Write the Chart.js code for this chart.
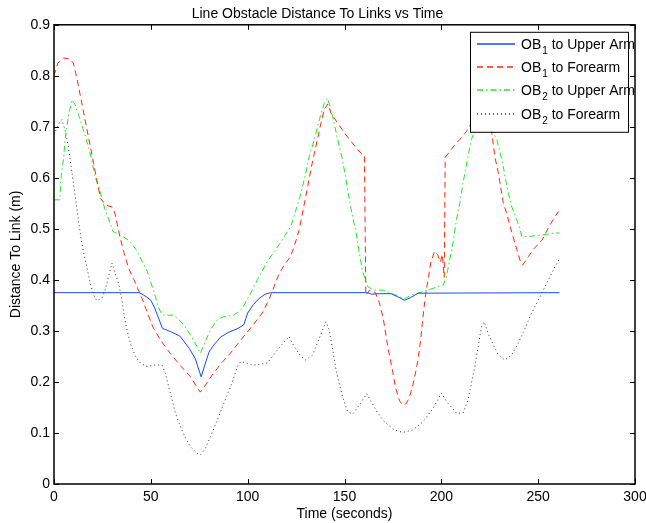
<!DOCTYPE html>
<html>
<head>
<meta charset="utf-8">
<script src="https://cdn.jsdelivr.net/npm/chart.js@4/dist/chart.umd.min.js"></script>
<style>
  html, body { margin: 0; padding: 0; background: #fff; }
</style>
</head>
<body>
<canvas id="lineCanvas" width="646" height="523"></canvas>
<script>
// OB1 to Upper Arm (solid blue)
const timeOb1Upper = [0, 44, 46, 48, 50, 52, 54, 56, 60, 65, 70, 73, 76, 78, 80, 82, 86, 90, 95, 98,
  100, 103, 106, 109, 112, 162, 164, 168, 174, 178, 181, 184, 188, 261];
const ob1Upper = [0.375, 0.375, 0.371, 0.366, 0.36, 0.345, 0.325, 0.305, 0.299, 0.29, 0.265, 0.245, 0.21, 0.235, 0.258, 0.27, 0.288, 0.297, 0.305, 0.312,
  0.335, 0.352, 0.364, 0.372, 0.375, 0.375, 0.372, 0.373, 0.373, 0.366, 0.36, 0.365, 0.374, 0.375];

// OB1 to Forearm (red dashed)
const timeOb1Fore = [0, 2, 5, 8, 10, 12, 24, 26, 28, 30,
  31.5, 34, 36, 38.5, 42, 45.4, 48, 51, 55, 60,
  65, 70.5, 75.5, 77.5, 81, 86, 91, 96, 102, 107.5,
  111, 113.6, 116, 119, 122, 124, 126.6, 128.3, 130, 132.6,
  134.4, 136, 137.8, 139.5, 141.3, 143, 146.5, 150.8, 156.8, 160.3,
  161, 163, 166, 168, 170, 172.4, 175, 176.3, 178.4, 180,
  182, 183.6, 185.3, 187, 188.2, 189.3, 190.2, 191, 192.2, 193.4,
  194.5, 196.5, 198, 199.5, 200.5, 201.5, 202, 207, 209.5, 213,
  215, 219, 223, 226, 227.6, 229.4, 230.6, 232, 233.7, 235,
  237, 239, 240.6, 242, 245, 248, 252, 255, 258.7, 260.5];
const ob1Fore = [0.8, 0.825, 0.835, 0.833, 0.825, 0.792, 0.56, 0.55, 0.545, 0.543,
  0.53, 0.485, 0.455, 0.423, 0.394, 0.364, 0.338, 0.308, 0.282, 0.256,
  0.233, 0.21, 0.18, 0.19, 0.21, 0.235, 0.256, 0.28, 0.308, 0.335,
  0.361, 0.387, 0.41, 0.43, 0.445, 0.465, 0.498, 0.531, 0.563, 0.616,
  0.648, 0.675, 0.707, 0.733, 0.745, 0.727, 0.707, 0.684, 0.655, 0.643,
  0.37, 0.38, 0.375, 0.355, 0.325, 0.268, 0.218, 0.19, 0.163, 0.155,
  0.158, 0.171, 0.194, 0.224, 0.25, 0.282, 0.315, 0.344, 0.38, 0.406,
  0.433, 0.456, 0.45, 0.435, 0.45, 0.405, 0.64, 0.665, 0.675, 0.691,
  0.704, 0.72, 0.73, 0.69, 0.642, 0.61, 0.583, 0.551, 0.531, 0.512,
  0.485, 0.459, 0.439, 0.429, 0.446, 0.462, 0.478, 0.5, 0.524, 0.534];

// OB2 to Upper Arm (green dash-dot)
const timeOb2Upper = [0, 3, 3.5, 5, 5.7, 7.4, 9.2, 11, 12.6, 15.2,
  17.8, 19.5, 21.2, 23.8, 26.4, 29, 30.4, 33, 36, 39.4,
  42.8, 45, 48, 51.5, 54, 55.8, 61.8, 67, 70.5, 73.9,
  75.6, 77.4, 80.8, 84.3, 87.7, 92.9, 97.2, 101.6, 105, 110.2,
  116.2, 122.3, 124.9, 127.5, 130, 131.8, 134.4, 137, 139.5, 141.3,
  143.9, 146.5, 149, 150.8, 152.5, 154.2, 156, 157.7, 159.4, 162,
  165, 170, 174, 178.4, 181, 184.5, 188, 193, 198.3, 201,
  202.6, 204.3, 206, 207.8, 209.5, 211.2, 213.8, 215.5, 219, 222,
  226, 228.5, 230.2, 232, 233.2, 234.6, 236.3, 238.9, 240.6, 241.5,
  244.9, 251.8, 258.7, 261];
const ob2Upper = [0.557, 0.557, 0.596, 0.64, 0.675, 0.72, 0.753, 0.743, 0.724, 0.694,
  0.661, 0.635, 0.603, 0.573, 0.537, 0.511, 0.495, 0.49, 0.484, 0.475,
  0.457, 0.44, 0.418, 0.378, 0.346, 0.331, 0.331, 0.312, 0.292, 0.269,
  0.256, 0.273, 0.302, 0.322, 0.328, 0.331, 0.344, 0.374, 0.4, 0.436,
  0.469, 0.505, 0.537, 0.57, 0.609, 0.642, 0.675, 0.714, 0.746, 0.756,
  0.72, 0.675, 0.635, 0.596, 0.557, 0.524, 0.492, 0.452, 0.416, 0.387,
  0.38, 0.38, 0.374, 0.367, 0.363, 0.37, 0.374, 0.38, 0.387, 0.39,
  0.406, 0.439, 0.472, 0.518, 0.55, 0.59, 0.642, 0.675, 0.71, 0.72,
  0.694, 0.678, 0.652, 0.622, 0.596, 0.57, 0.544, 0.518, 0.501, 0.485,
  0.485, 0.488, 0.492, 0.492];

// OB2 to Forearm (black dotted)
const timeOb2Fore = [0, 3, 4, 5.7, 7.4, 8.6, 10, 11.2, 12.6, 13.8,
  15.2, 16.9, 18.7, 20.4, 22.1, 24.7, 26.4, 28.1, 29.9, 31.6,
  33.3, 35.1, 36.3, 37.7, 39.4, 42, 44.6, 48, 51.5, 55.8,
  57.5, 59.2, 61, 62.7, 65.3, 67.9, 70.5, 73.9, 75.6, 78.2,
  80.8, 84.3, 87.7, 91.2, 94.7, 96.4, 103.3, 110.2, 115.4, 119.7,
  121.4, 124, 127.5, 130, 133.5, 136, 138.7, 140.4, 142.1, 143.9,
  145.6, 147.3, 149, 151.6, 154.2, 157.7, 161.5, 164, 167.2, 170.6,
  175.8, 180.2, 185.3, 190.5, 195.7, 200, 203.5, 207.8, 211.2, 213.8,
  215.5, 217.3, 219, 220.7, 222.1, 224.2, 226.8, 229.4, 232.8, 236.3,
  239.7, 243.2, 246.6, 250.1, 255.3, 258.7, 261.3];
const ob2Fore = [0.685, 0.71, 0.714, 0.694, 0.661, 0.629, 0.59, 0.557, 0.518, 0.485,
  0.455, 0.426, 0.394, 0.371, 0.359, 0.364, 0.38, 0.406, 0.433, 0.413,
  0.394, 0.361, 0.328, 0.302, 0.276, 0.25, 0.237, 0.23, 0.233, 0.233,
  0.217, 0.191, 0.165, 0.139, 0.112, 0.09, 0.073, 0.06, 0.057, 0.07,
  0.093, 0.125, 0.158, 0.191, 0.23, 0.24, 0.233, 0.237, 0.263, 0.282,
  0.289, 0.269, 0.25, 0.243, 0.253, 0.276, 0.302, 0.318, 0.302, 0.263,
  0.224, 0.197, 0.171, 0.142, 0.137, 0.155, 0.177, 0.16, 0.139, 0.122,
  0.106, 0.101, 0.106, 0.122, 0.148, 0.178, 0.158, 0.139, 0.139, 0.165,
  0.197, 0.23, 0.269, 0.308, 0.318, 0.295, 0.273, 0.253, 0.243, 0.253,
  0.276, 0.305, 0.335, 0.361, 0.4, 0.426, 0.443];

const xTicks = [0, 50, 100, 150, 200, 250, 300];
const yTicks = [0, 0.1, 0.2, 0.3, 0.4, 0.5, 0.6, 0.7, 0.8, 0.9];

const seriesColors = ['rgb(25,75,255)', 'rgb(255,40,15)', 'rgb(30,235,30)', '#333'];
const seriesDash = [[], [6, 4], [6, 3, 1.5, 3], [1, 3]];

function pts(t, v) {
  return t.map(function(x, i) { return {x: x, y: v[i]}; });
}

Chart.defaults.font.family = "'Liberation Sans', Arial, Helvetica, sans-serif";
Chart.defaults.font.size = 14;
Chart.defaults.color = '#000';

// box round the plot with inward ticks, MATLAB style
const framePlugin = {
  id: 'frame',
  afterDatasetsDraw(chart) {
    const ctx = chart.ctx, a = chart.chartArea;
    const xs = chart.scales.x, ys = chart.scales.y;
    ctx.save();
    ctx.setLineDash([]);
    ctx.strokeStyle = '#000';
    ctx.lineWidth = 1.5;
    ctx.strokeRect(a.left, a.top, a.right - a.left, a.bottom - a.top);
    ctx.lineWidth = 1;
    ctx.beginPath();
    xTicks.forEach(function(v) {
      const p = Math.round(xs.getPixelForValue(v)) + 0.5;
      ctx.moveTo(p, a.bottom); ctx.lineTo(p, a.bottom - 5);
      ctx.moveTo(p, a.top); ctx.lineTo(p, a.top + 5);
    });
    yTicks.forEach(function(v) {
      const p = Math.round(ys.getPixelForValue(v)) + 0.5;
      ctx.moveTo(a.left, p); ctx.lineTo(a.left + 5, p);
      ctx.moveTo(a.right, p); ctx.lineTo(a.right - 5, p);
    });
    ctx.stroke();
    ctx.restore();
  }
};

// legend drawn on top of the lines, with subscripts
const legendPlugin = {
  id: 'boxLegend',
  afterDraw(chart) {
    const ctx = chart.ctx, a = chart.chartArea;
    const w = 158, h = 100;
    const left = a.right - 7 - w, top = a.top + 7;
    ctx.save();
    ctx.fillStyle = '#fff';
    ctx.fillRect(left, top, w, h);
    ctx.strokeStyle = '#000';
    ctx.lineWidth = 1;
    ctx.strokeRect(left + 0.5, top + 0.5, w, h);
    chart.data.datasets.forEach(function(ds, i) {
      const ly = Math.round(top + 12 + i * 23.3);
      ctx.beginPath();
      ctx.setLineDash(seriesDash[i]);
      ctx.strokeStyle = seriesColors[i];
      ctx.lineWidth = 1.4;
      ctx.moveTo(left + 7, ly);
      ctx.lineTo(left + 45, ly);
      ctx.stroke();
      ctx.setLineDash([]);
      const m = ds.label.match(/^OB(\d)(.*)$/);
      const base = ly + 4.5;
      let tx = left + 51;
      ctx.fillStyle = '#000';
      ctx.textBaseline = 'alphabetic';
      ctx.textAlign = 'left';
      ctx.font = "14px 'Liberation Sans', Arial, sans-serif";
      ctx.fillText('OB', tx, base);
      tx += ctx.measureText('OB').width + 1;
      ctx.font = "10px 'Liberation Sans', Arial, sans-serif";
      ctx.fillText(m[1], tx, base + 5);
      tx += ctx.measureText(m[1]).width;
      ctx.font = "14px 'Liberation Sans', Arial, sans-serif";
      ctx.fillText(m[2], tx, base);
    });
    ctx.restore();
  }
};

const lineChart = new Chart(document.getElementById('lineCanvas'), {
  type: 'line',
  data: {
    datasets: [{
      label: 'OB1 to Upper Arm',
      data: pts(timeOb1Upper, ob1Upper),
      borderColor: seriesColors[0]
    }, {
      label: 'OB1 to Forearm',
      data: pts(timeOb1Fore, ob1Fore),
      borderColor: seriesColors[1],
      borderDash: seriesDash[1]
    }, {
      label: 'OB2 to Upper Arm',
      data: pts(timeOb2Upper, ob2Upper),
      borderColor: seriesColors[2],
      borderDash: seriesDash[2]
    }, {
      label: 'OB2 to Forearm',
      data: pts(timeOb2Fore, ob2Fore),
      borderColor: seriesColors[3],
      borderDash: seriesDash[3]
    }]
  },
  options: {
    responsive: false,
    animation: false,
    layout: { padding: { left: 0, right: 11, top: 0, bottom: 0 } },
    elements: {
      point: { radius: 0 },
      line: { borderWidth: 1, tension: 0, fill: false }
    },
    plugins: {
      legend: { display: false },
      tooltip: { enabled: false },
      title: {
        display: true,
        text: 'Line Obstacle Distance To Links vs Time',
        font: { size: 14, weight: 'normal' },
        padding: { top: 5.5, bottom: 2.5 }
      }
    },
    scales: {
      x: {
        type: 'linear',
        min: 0, max: 300,
        afterBuildTicks(s) { s.ticks = xTicks.map(function(v) { return {value: v}; }); },
        ticks: { padding: 5, maxRotation: 0 },
        grid: { display: false, drawTicks: false },
        border: { display: false },
        title: { display: true, text: 'Time (seconds)', padding: { top: 0, bottom: 0 } },
        afterFit(s) { s.height = 39; s.paddingLeft = 0; s.paddingRight = 0; }
      },
      y: {
        min: 0, max: 0.9,
        afterBuildTicks(s) { s.ticks = yTicks.map(function(v) { return {value: v}; }); },
        ticks: { padding: 4 },
        grid: { display: false, drawTicks: false },
        border: { display: false },
        title: { display: true, text: 'Distance To Link (m)', padding: { top: 8, bottom: 0 } },
        afterFit(s) { s.width = 54; }
      }
    }
  },
  plugins: [framePlugin, legendPlugin]
});
</script>
</body>
</html>
